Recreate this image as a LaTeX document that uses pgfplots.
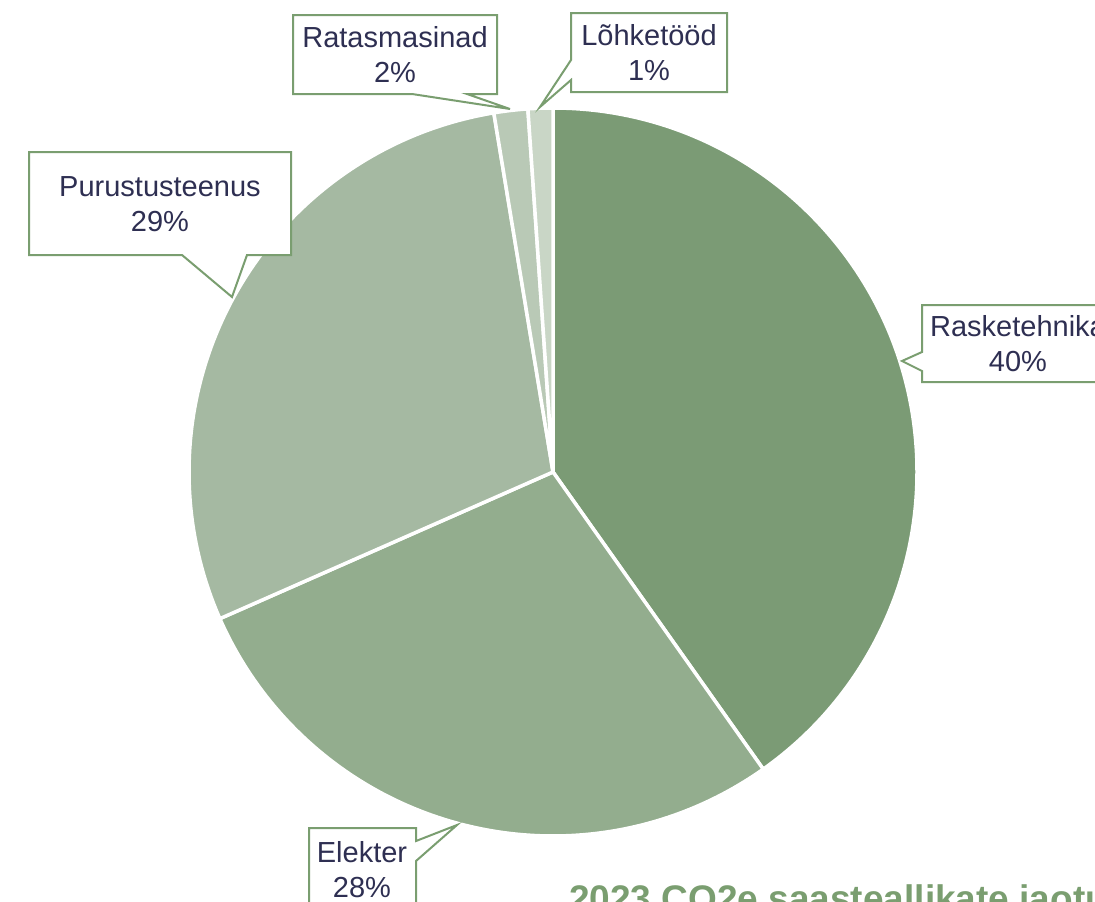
\documentclass[border=0pt]{standalone}
\usepackage{pgfplots}
\pgfplotsset{compat=1.18}
\usepackage{pgfplotstable}
\usepackage{fontspec}
\setmainfont{Liberation Sans}
\definecolor{c1}{HTML}{7B9B75}
\definecolor{c2}{HTML}{93AD8E}
\definecolor{c3}{HTML}{A5B9A2}
\definecolor{c4}{HTML}{B9C9B6}
\definecolor{c5}{HTML}{C9D6C6}
\definecolor{txt}{HTML}{2E2F52}
\definecolor{edge}{HTML}{7A9E70}
\definecolor{ttl}{HTML}{7A9E70}

\pgfplotstableread[col sep=comma]{
value,color
40.2,c1
28.2,c2
29.0,c3
1.5,c4
1.1,c5
}\piedata

\begin{document}
\begin{tikzpicture}
\begin{axis}[
  at={(0,0)}, anchor=south west,
  scale only axis, width=1095pt, height=902pt,
  xmin=0, xmax=1095, ymin=0, ymax=902, y dir=reverse,
  hide axis, clip=false,
]
\pgfplotstablegetrowsof{\piedata}
\pgfmathtruncatemacro{\nlast}{\pgfplotsretval-1}
\def\cum{0}
\pgfplotsforeachungrouped \i in {0,...,\nlast}{%
  \pgfplotstablegetelem{\i}{value}\of\piedata \let\val\pgfplotsretval
  \pgfplotstablegetelem{\i}{color}\of\piedata \let\col\pgfplotsretval
  \pgfmathsetmacro{\aS}{90-3.6*\cum}%
  \pgfmathsetmacro{\aE}{90-3.6*(\cum+\val)}%
  \pgfmathsetmacro{\cum}{\cum+\val}%
  \edef\temp{\noexpand\fill[fill=\col, draw=white, line width=3.5pt, line join=round] (axis cs:553,472) -- ++(\aS:364pt) arc[start angle=\aS, end angle=\aE, radius=364pt] -- cycle;}%
  \temp
}
% callouts
\draw[edge, line width=2pt, fill=white] (axis cs:293,15) -- (axis cs:497,15) -- (axis cs:497,94) -- (axis cs:467,94) -- (axis cs:510,109) -- (axis cs:412,94) -- (axis cs:293,94) -- cycle;
\draw[edge, line width=2pt, fill=white] (axis cs:571,13) -- (axis cs:727,13) -- (axis cs:727,92) -- (axis cs:571,92) -- (axis cs:571,80) -- (axis cs:540,107) -- (axis cs:571,60) -- cycle;
\draw[edge, line width=2pt, fill=white] (axis cs:29,152) -- (axis cs:291,152) -- (axis cs:291,255) -- (axis cs:247,255) -- (axis cs:232,297) -- (axis cs:182,255) -- (axis cs:29,255) -- cycle;
\draw[edge, line width=2pt, fill=white] (axis cs:922,305) -- (axis cs:1120,305) -- (axis cs:1120,382) -- (axis cs:922,382) -- (axis cs:922,371) -- (axis cs:902,361) -- (axis cs:922,352) -- cycle;
\draw[edge, line width=2pt, fill=white] (axis cs:309,828) -- (axis cs:416,828) -- (axis cs:416,841) -- (axis cs:457,825) -- (axis cs:416,861) -- (axis cs:416,940) -- (axis cs:309,940) -- cycle;
% labels
\tikzset{lab/.style={text=txt, align=center, inner sep=0pt, font=\fontsize{29}{35}\selectfont}}
\node[lab] at (axis cs:395,55) {Ratasmasinad\\2\%};
\node[lab] at (axis cs:649,53) {Lõhketööd\\1\%};
\node[lab] at (axis cs:160,204) {Purustusteenus\\29\%};
\node[lab] at (axis cs:1018,344) {Rasketehnika\\40\%};
\node[lab] at (axis cs:362,870) {Elekter\\28\%};
\node[anchor=base west, inner sep=0pt, text=ttl, font=\fontsize{37}{42}\selectfont\bfseries] at (axis cs:569,911) {2023 CO2e saasteallikate jaotus};
\end{axis}
\pgfresetboundingbox
\path[use as bounding box] (current axis.south west) rectangle (current axis.north east);
\end{tikzpicture}
\end{document}
